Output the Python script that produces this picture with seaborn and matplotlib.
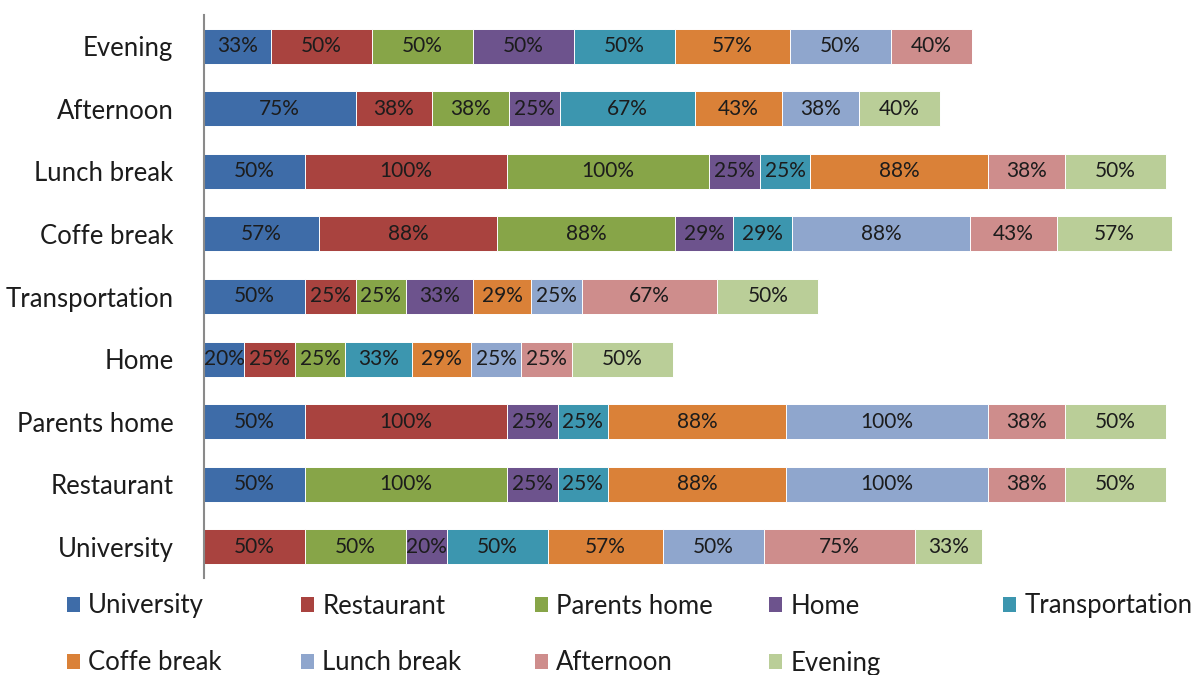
import numpy as np
import matplotlib
matplotlib.use("Agg")
import matplotlib.pyplot as plt
from matplotlib.patches import Patch
import seaborn as sns

# Places (rows, top to bottom) and the series stacked in each row
rows = ["Evening", "Afternoon", "Lunch break", "Coffe break", "Transportation",
        "Home", "Parents home", "Restaurant", "University"]
series = ["University", "Restaurant", "Parents home", "Home", "Transportation",
          "Coffe break", "Lunch break", "Afternoon", "Evening"]

# Percentages per series, listed in the same order as `rows`
university     = [33, 75,  50, 57, 50, 20,  50,  50,  0]
restaurant     = [50, 38, 100, 88, 25, 25, 100,   0, 50]
parents_home   = [50, 38, 100, 88, 25, 25,   0, 100, 50]
home           = [50, 25,  25, 29, 33,  0,  25,  25, 20]
transportation = [50, 67,  25, 29,  0, 33,  25,  25, 50]
coffe_break    = [57, 43,  88,  0, 29, 29,  88,  88, 57]
lunch_break    = [50, 38,   0, 88, 25, 25, 100, 100, 50]
afternoon      = [40,  0,  38, 43, 67, 25,  38,  38, 75]
evening        = [ 0, 40,  50, 57, 50, 50,  50,  50, 33]

colors = ["#3E6CA8", "#A9433F", "#87A548", "#6D538D", "#3C96AF",
          "#DA8138", "#8FA6CD", "#CE8D8C", "#BACE98"]

values = np.array([university, restaurant, parents_home, home, transportation,
                   coffe_break, lunch_break, afternoon, evening], dtype=float)
cum = np.cumsum(values, axis=0)

sns.set_theme(style="white")
plt.rcParams["font.family"] = ["Lato", "DejaVu Sans"]
text_color = "#1c1c1c"

W, H = 1192, 675
fig = plt.figure(figsize=(W / 100, H / 100), dpi=100)
ax = fig.add_axes([204 / W, 97 / H, 970 / W, 563 / H])

# Stacked bars: draw running totals from the longest down so each
# segment shows through in front of the next one
for i in reversed(range(len(series))):
    sns.barplot(x=cum[i], y=rows, order=rows, orient="h", color=colors[i],
                saturation=1, width=0.56, errorbar=None, ax=ax,
                edgecolor="white", linewidth=0.7)

# Percentage labels centred in every non-empty segment
for i in range(len(series)):
    for r in range(len(rows)):
        v = values[i, r]
        if v > 0:
            ax.text(cum[i, r] - v / 2, r, f"{int(v)}%", ha="center",
                    va="center", fontsize=15, color=text_color)

ax.set_xlim(0, 480)
ax.set_ylim(len(rows) - 0.5, -0.5)
ax.set_xlabel("")
ax.set_ylabel("")
ax.set_xticks([])
ax.tick_params(axis="y", length=0, pad=22, labelsize=18.5, labelcolor=text_color)
for side in ["top", "right", "bottom"]:
    ax.spines[side].set_visible(False)
ax.spines["left"].set_color("#8a8a8a")
ax.spines["left"].set_linewidth(1.5)

# Legend laid out on a 5-column grid, two rows
col_x0, col_step = 67, 234
row_y = [606, 663]
for k, (name, c) in enumerate(zip(series, colors)):
    r, col = divmod(k, 5)
    fig.legend(handles=[Patch(facecolor=c, edgecolor="none")], labels=[name],
               loc="center left",
               bbox_to_anchor=((col_x0 + col * col_step) / W, 1 - row_y[r] / H),
               frameon=False, fontsize=18.5, handlelength=0.5, handleheight=0.5,
               handletextpad=0.33, borderpad=0, borderaxespad=0,
               labelcolor=text_color)

fig.savefig("out.png", dpi=100)
